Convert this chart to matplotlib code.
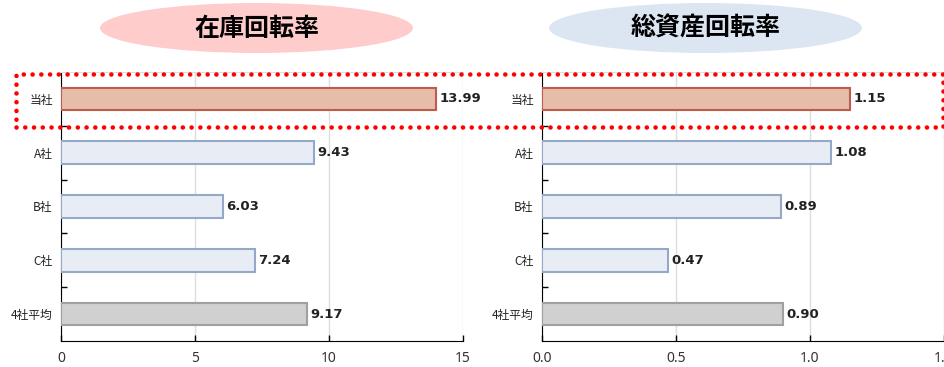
import matplotlib
matplotlib.use("Agg")
import matplotlib.pyplot as plt
from matplotlib.patches import Ellipse, Rectangle

plt.rcParams['font.family'] = ['Noto Sans CJK JP', 'DejaVu Sans']

categories = ["当社", "A社", "B社", "C社", "4社平均"]
inventory_turnover = [13.99, 9.43, 6.03, 7.24, 9.17]
asset_turnover = [1.15, 1.08, 0.89, 0.47, 0.90]
titles = ["在庫回転率", "総資産回転率"]
left_ticks = [0, 5, 10, 15]
left_ticklabels = ["0", "5", "10", "15"]
right_ticks = [0.0, 0.5, 1.0, 1.5]
right_ticklabels = ["0.0", "0.5", "1.0", "1.5"]

fills = ["#E6BDA8", "#E8ECF4", "#E8ECF4", "#E8ECF4", "#D0D0D0"]
edges = ["#BE5A4E", "#93A9C7", "#93A9C7", "#93A9C7", "#A0A0A0"]

W, H = 944, 367
fig = plt.figure(figsize=(W / 100, H / 100), dpi=100)

def fx(px):
    return px / W

def fy(py):
    return 1 - py / H

ax_top, ax_bot = 72, 341
axes_specs = [
    (61, inventory_turnover, left_ticks, left_ticklabels, (0, 15), "{:.2f}"),
    (542, asset_turnover, right_ticks, right_ticklabels, (0, 1.5), "{:.2f}"),
]

for (x0, vals, ticks, tlabels, xlim, fmt) in axes_specs:
    ax = fig.add_axes([fx(x0), fy(ax_bot), 402 / W, (ax_bot - ax_top) / H])
    ypos = list(range(len(categories)))
    ax.barh(ypos, vals, height=0.42, color=fills, edgecolor=edges, linewidth=1.5, zorder=3)
    ax.set_xlim(*xlim)
    ax.set_ylim(len(categories) - 0.5, -0.5)
    ax.set_yticks(ypos)
    ax.set_yticklabels(categories, fontsize=8.5, color="#222222")
    ax.set_yticks([i + 0.5 for i in range(len(categories) - 1)], minor=True)
    ax.tick_params(axis="y", which="major", length=0, pad=6)
    ax.tick_params(axis="y", which="minor", length=4, direction="in", width=1)
    ax.set_xticks(ticks)
    ax.set_xticklabels(tlabels, fontsize=10, color="#333333", family=["Noto Sans", "DejaVu Sans"])
    ax.tick_params(axis="x", length=4, direction="in", width=1, pad=7)
    ax.grid(axis="x", color="#DDDDDD", linewidth=1, zorder=0)
    ax.spines["top"].set_color("#DDDDDD")
    ax.spines["right"].set_visible(False)
    ax.spines["left"].set_color("black")
    ax.spines["bottom"].set_color("black")
    for i, v in enumerate(vals):
        ax.annotate(fmt.format(v), (v, i), xytext=(2.5, 0), textcoords="offset points",
                    va="center", ha="left", fontsize=9.5, fontweight="bold",
                    color="#222222", family=["DejaVu Sans"])

# title ellipses
for cx, col, txt in [(256.5, "#FFCCCC", titles[0]), (705.5, "#DCE6F2", titles[1])]:
    e = Ellipse((fx(cx), fy(28)), 313 / W, 50 / H, transform=fig.transFigure,
                facecolor=col, edgecolor="none", zorder=0)
    fig.patches.append(e)
    fig.text(fx(cx), fy(29), txt, ha="center", va="center", fontsize=18,
             fontweight="bold", color="black")

# red dotted highlight rectangle
rect = Rectangle((fx(16), fy(127)), (943 - 16) / W, (127 - 74) / H,
                 transform=fig.transFigure, fill=False, edgecolor="#FF0000",
                 linewidth=3.3, linestyle=(0, (0.01, 1.9)), capstyle="round", zorder=10)
fig.patches.append(rect)

fig.savefig("out.png", dpi=100)
